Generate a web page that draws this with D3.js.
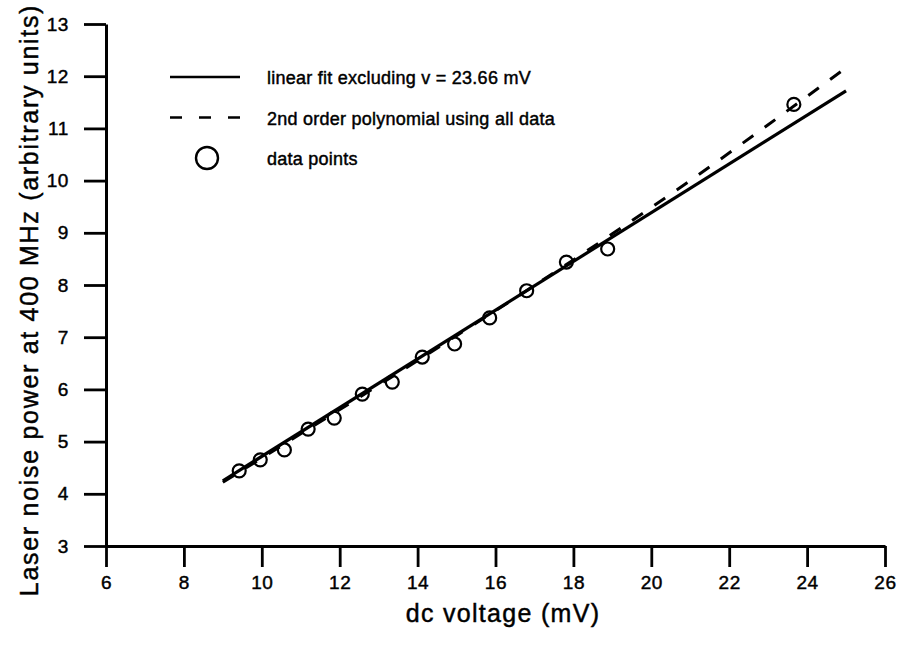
<!DOCTYPE html>
<html>
<head>
<meta charset="utf-8">
<script src="https://cdn.jsdelivr.net/npm/d3@7"></script>
<style>
  body { margin: 0; background: #fff; }
  text { font-family: "Liberation Sans", Arial, sans-serif; fill: #000; stroke: #000; stroke-width: 0.45px; }
</style>
</head>
<body>
<svg id="chart" width="908" height="646"></svg>
<script>
// data points: dc voltage (mV) and noise power
const voltage = [9.42, 9.96, 10.58, 11.19, 11.86, 12.58, 13.35, 14.12, 14.95, 15.85, 16.80, 17.82, 18.88, 23.66];
const noise   = [4.44, 4.65, 4.84, 5.24, 5.45, 5.91, 6.14, 6.62, 6.87, 7.37, 7.89, 8.44, 8.69, 11.46];

// linear fit excluding the last point (ends)
const linX = [9, 25];
const linY = [4.25, 11.72];

// 2nd order polynomial using all data
const polyX = [9, 11, 13, 15, 17, 19, 21, 23, 25];
const polyY = [4.22, 5.15, 6.08, 7.03, 7.99, 8.98, 10.0, 11.07, 12.16];

const xTicks = [6, 8, 10, 12, 14, 16, 18, 20, 22, 24, 26];
const yTicks = [3, 4, 5, 6, 7, 8, 9, 10, 11, 12, 13];

const legendItems = [
    { label: "linear fit excluding v = 23.66 mV", type: "solid" },
    { label: "2nd order polynomial using all data", type: "dash" },
    { label: "data points", type: "circle" }
];

const svg = d3.select("#chart");

const x = d3.scaleLinear().domain([6, 26]).range([106, 885]);
const y = d3.scaleLinear().domain([3, 13]).range([546, 24]);

// axes
const xAxis = svg.append("g")
    .attr("transform", `translate(0,${y(3)})`)
    .call(d3.axisBottom(x).tickValues(xTicks).tickSize(21).tickSizeOuter(0).tickPadding(9));
const yAxis = svg.append("g")
    .attr("transform", `translate(${x(6)},0)`)
    .call(d3.axisLeft(y).tickValues(yTicks).tickSize(22).tickSizeOuter(0).tickPadding(15));

[xAxis, yAxis].forEach(a => {
    a.select(".domain").attr("stroke", "#000").attr("stroke-width", 3);
    a.selectAll(".tick line").attr("stroke", "#000").attr("stroke-width", 2.8);
    a.selectAll(".tick text").style("font-size", "19px").style("letter-spacing", "0.6px");
});

// axis titles
svg.append("text")
    .attr("x", 503).attr("y", 622)
    .attr("text-anchor", "middle")
    .style("font-size", "25px").style("letter-spacing", "1.3px")
    .text("dc voltage (mV)");

svg.append("text")
    .attr("transform", "translate(38,300) rotate(-90)")
    .attr("text-anchor", "middle")
    .style("font-size", "25px").style("letter-spacing", "1.7px")
    .text("Laser noise power at 400 MHz (arbitrary units)");

// fit lines
const line = d3.line().x(d => x(d[0])).y(d => y(d[1]));

svg.append("path")
    .datum(polyX.map((v, i) => [v, polyY[i]]))
    .attr("d", line.curve(d3.curveMonotoneX))
    .attr("fill", "none").attr("stroke", "#000")
    .attr("stroke-width", 3).attr("stroke-dasharray", "13,14");

svg.append("path")
    .datum(linX.map((v, i) => [v, linY[i]]))
    .attr("d", d3.line().x(d => x(d[0])).y(d => y(d[1])))
    .attr("fill", "none").attr("stroke", "#000")
    .attr("stroke-width", 3.2);

// data points
svg.selectAll(".pt")
    .data(voltage.map((v, i) => [v, noise[i]]))
    .join("circle")
    .attr("class", "pt")
    .attr("cx", d => x(d[0]))
    .attr("cy", d => y(d[1]))
    .attr("r", 6.5)
    .attr("fill", "none").attr("stroke", "#000").attr("stroke-width", 2.2);

// legend
const legend = svg.append("g").attr("transform", "translate(170,77)");
legendItems.forEach((item, i) => {
    const row = legend.append("g").attr("transform", `translate(0,${i * 40.5})`);
    if (item.type === "circle") {
        row.append("circle").attr("cx", 37).attr("cy", 0).attr("r", 11)
            .attr("fill", "none").attr("stroke", "#000").attr("stroke-width", 2.4);
    } else {
        row.append("line").attr("x1", 0).attr("x2", 70).attr("y1", 0).attr("y2", 0)
            .attr("stroke", "#000").attr("stroke-width", 2.6)
            .attr("stroke-dasharray", item.type === "dash" ? "12,17" : null);
    }
    row.append("text").attr("x", 97).attr("y", 7)
        .style("font-size", "18px").style("letter-spacing", "0.25px")
        .text(item.label);
});
</script>
</body>
</html>
